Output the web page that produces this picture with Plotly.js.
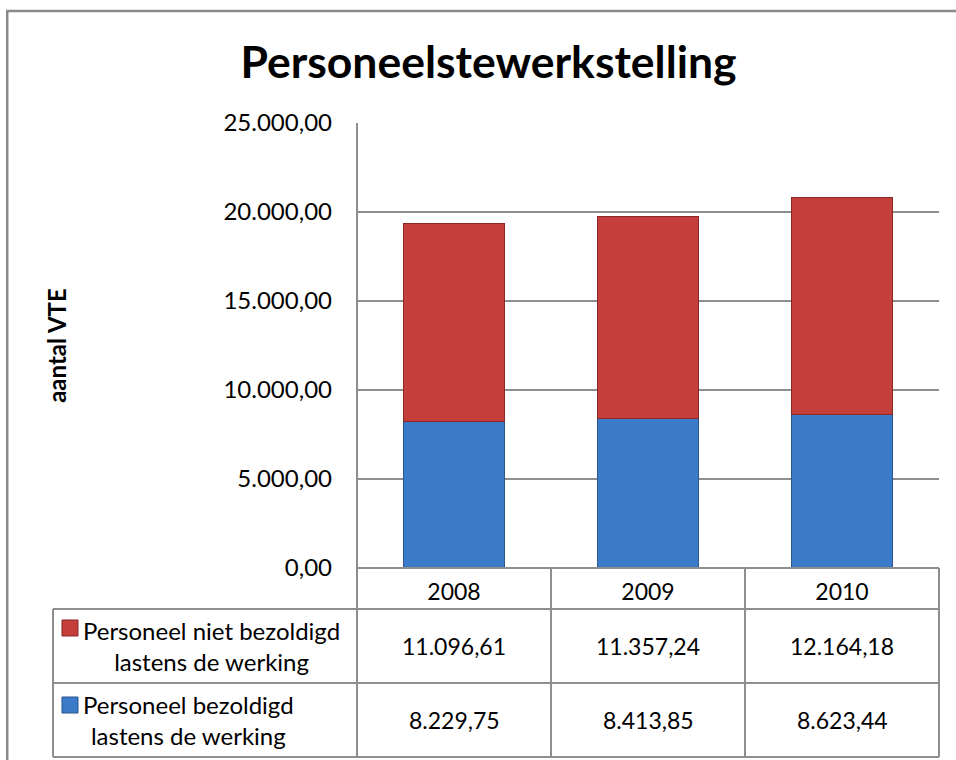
<!DOCTYPE html>
<html>
<head>
<meta charset="utf-8">
<script src="https://cdn.plot.ly/plotly-3.0.1.min.js"></script>
<style>html,body{margin:0;padding:0;background:#fff}#chart{width:956px;height:760px}</style>
</head>
<body>
<div id="chart"></div>
<script>
// ---- data ----
const chartTitle = "Personeelstewerkstelling";
const yTitle = "aantal VTE";
const years = ["2008", "2009", "2010"];
const seriesBezoldigdName = ["Personeel bezoldigd", "lastens de werking"];
const seriesBezoldigd = [8229.75, 8413.85, 8623.44];
const seriesNietName = ["Personeel niet bezoldigd", "lastens de werking"];
const seriesNiet = [11096.61, 11357.24, 12164.18];
const yTicks = [0, 5000, 10000, 15000, 20000, 25000];

function fmtNL(v) {
  const parts = v.toFixed(2).split(".");
  parts[0] = parts[0].replace(/\B(?=(\d{3})+(?!\d))/g, ".");
  return parts[0] + "," + parts[1];
}

const FONT = "Lato, 'Open Sans', sans-serif";
const GRID = "#8e8e8e";
const BLUE = "#3c7bc8";
const RED = "#c43e3b";

const traces = [
  { type: "bar", x: years, y: seriesBezoldigd, name: seriesBezoldigdName.join(" "),
    width: 0.52, marker: { color: BLUE, line: { color: "#2a5590", width: 1 } } },
  { type: "bar", x: years, y: seriesNiet, name: seriesNietName.join(" "),
    width: 0.52, marker: { color: RED, line: { color: "#8a2826", width: 1 } } }
];

// table geometry in paper coordinates (plot area = [0,1])
const rowTop = -0.0921, rowMid = -0.2584, rowBot = -0.4247, tableLeft = -0.5223;
const lineStyle = { color: GRID, width: 2 };
const shapes = [
  // outer chart border
  { type: "rect", xref: "paper", yref: "paper", x0: -0.601, x1: 1.06, y0: -0.48, y1: 1.2517,
    line: { color: "#8a8a8a", width: 2.5 }, fillcolor: "rgba(0,0,0,0)", layer: "below" },
  // horizontal table lines
  { type: "line", xref: "paper", yref: "paper", x0: 0, x1: 1, y0: 0, y1: 0, line: lineStyle },
  { type: "line", xref: "paper", yref: "paper", x0: tableLeft, x1: 1, y0: rowTop, y1: rowTop, line: lineStyle },
  { type: "line", xref: "paper", yref: "paper", x0: tableLeft, x1: 1, y0: rowMid, y1: rowMid, line: lineStyle },
  { type: "line", xref: "paper", yref: "paper", x0: tableLeft, x1: 1, y0: rowBot, y1: rowBot, line: lineStyle },
  // vertical table lines
  { type: "line", xref: "paper", yref: "paper", x0: tableLeft, x1: tableLeft, y0: rowTop, y1: rowBot, line: lineStyle },
  { type: "line", xref: "paper", yref: "paper", x0: 0, x1: 0, y0: 1, y1: rowBot, line: lineStyle },
  { type: "line", xref: "paper", yref: "paper", x0: 1, x1: 1, y0: 0, y1: rowBot, line: lineStyle },
  { type: "line", xref: "x", yref: "paper", x0: 0.5, x1: 0.5, y0: 0, y1: rowBot, line: lineStyle },
  { type: "line", xref: "x", yref: "paper", x0: 1.5, x1: 1.5, y0: 0, y1: rowBot, line: lineStyle },
  // legend keys
  { type: "rect", xref: "paper", yref: "paper", x0: -0.5069, x1: -0.4794, y0: -0.1168, y1: -0.1528,
    fillcolor: RED, line: { color: "#8a2826", width: 1 } },
  { type: "rect", xref: "paper", yref: "paper", x0: -0.5069, x1: -0.4794, y0: -0.2899, y1: -0.3259,
    fillcolor: BLUE, line: { color: "#2a5590", width: 1 } }
];

const annotations = [];
const rows = [
  { name: seriesNietName, vals: seriesNiet, y: (rowTop + rowMid) / 2 },
  { name: seriesBezoldigdName, vals: seriesBezoldigd, y: (rowMid + rowBot) / 2 }
];
rows.forEach(r => {
  annotations.push({ xref: "paper", yref: "paper", x: -0.4742, y: r.y, xanchor: "left", yanchor: "middle",
    align: "center", showarrow: false, text: r.name.join("<br>"),
    font: { family: FONT, size: 24, color: "#000" } });
  r.vals.forEach((v, i) => {
    annotations.push({ xref: "x", yref: "paper", x: i, y: r.y, xanchor: "center", yanchor: "middle",
      showarrow: false, text: fmtNL(v), font: { family: FONT, size: 23, color: "#000" } });
  });
});

const layout = {
  width: 956, height: 760,
  margin: { l: 357, r: 17, t: 123, b: 192 },
  paper_bgcolor: "#fff", plot_bgcolor: "#fff",
  barmode: "stack", showlegend: false,
  separators: ",.",
  font: { family: FONT, size: 22, color: "#000" },
  title: { text: "<b>" + chartTitle + "</b>", font: { family: FONT, size: 44.5, color: "#000" },
    xref: "container", x: 0.511, xanchor: "center", yref: "container", y: 0.918, yanchor: "middle" },
  xaxis: { type: "category", range: [-0.5, 2.5], showgrid: false, showline: false, zeroline: false,
    ticks: "", tickfont: { family: FONT, size: 23 }, ticklabelstandoff: 8, fixedrange: true },
  yaxis: { range: [0, 25000], tickvals: yTicks, tickformat: ",.2f", showgrid: true, gridcolor: GRID, gridwidth: 2,
    zeroline: false, showline: false, ticks: "", ticklabelstandoff: 24,
    tickfont: { family: FONT, size: 24 },
    title: { text: "<b>" + yTitle + "</b>", font: { family: FONT, size: 24 }, standoff: 150 } },
  shapes: shapes,
  annotations: annotations
};

Plotly.newPlot("chart", traces, layout, { displayModeBar: false, staticPlot: true });
</script>
</body>
</html>
